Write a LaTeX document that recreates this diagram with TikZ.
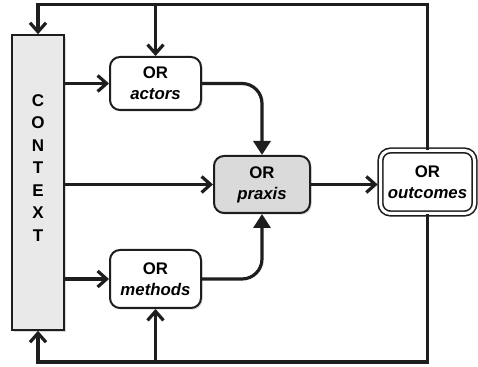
\documentclass[tikz,border=0pt]{standalone}
\usepackage{fontspec}
\setmainfont{Liberation Sans}
\usetikzlibrary{arrows.meta,shadows}
\definecolor{orgris}{HTML}{DADADA}
\definecolor{orgrispale}{HTML}{E9E9E9}
\definecolor{ordark}{HTML}{1E1E1E}

\tikzset{
  orbox/.style={draw=ordark,line width=1pt,rounded corners=5pt,fill=white,align=center,
    font=\bfseries\fontsize{8.4}{10.5}\selectfont,
    drop shadow={shadow xshift=0.8pt,shadow yshift=-0.8pt,fill=black!30}},
  flow/.style={ordark,line width=1.6pt,-{Straight Barb[length=4.5pt,width=8pt]}},
  feed/.style={ordark,line width=1.6pt,rounded corners=10pt,-{Triangle[length=7pt,width=8.5pt]}},
  backline/.style={ordark,line width=1.6pt}
}

\begin{document}
\begin{tikzpicture}[x=0.5pt,y=-0.5pt]
  \useasboundingbox (0,0) rectangle (478,367);
  % boxes
  \node[draw=ordark,line width=0.8pt,fill=orgrispale,minimum width=26pt,minimum height=147.5pt,
    drop shadow={shadow xshift=0.8pt,shadow yshift=-0.8pt,fill=black!30}] (context) at (38,182.5) {};
  \node[font=\bfseries\fontsize{8.5}{11.25}\selectfont,align=center] (ctxlabel) at (38,168) {C\\O\\N\\T\\E\\X\\T};
  \node[orbox,minimum width=45.5pt,minimum height=26.5pt] (actors) at (155.5,83.5) {OR\\\itshape actors};
  \node[orbox,minimum width=45.5pt,minimum height=29pt] (methods) at (155.5,279) {OR\\\itshape methods};
  \node[orbox,fill=orgris,minimum width=48pt,minimum height=28.5pt] (praxis) at (262,184.5) {OR\\\itshape praxis};
  \node[orbox,line width=0.8pt,double,double distance=1.5pt,minimum width=47pt,minimum height=31.5pt] (outcomes) at (427.5,182) {OR\\\itshape outcomes};
  % feedback loops
  \draw[flow] (outcomes.north) -- (outcomes.north |- 0,4.5) -| (context.north);
  \draw[flow] (actors.north |- 0,4.5) -- (actors.north);
  \draw[flow] (outcomes.south) -- (outcomes.south |- 0,362) -| (context.south);
  \draw[flow] (methods.south |- 0,362) -- (methods.south);
  % context into the boxes
  \draw[flow] (context.east |- actors.west) -- (actors.west);
  \draw[flow] (context.east |- methods.west) -- (methods.west);
  \draw[flow] (context.east |- praxis.west) -- (praxis.west);
  \draw[flow,shorten >=1pt] (praxis.east) -- (praxis.east -| outcomes.west);
  % into praxis
  \draw[feed] (actors.east) -| (praxis.north);
  \draw[feed] (methods.east) -| (praxis.south);
\end{tikzpicture}
\end{document}
